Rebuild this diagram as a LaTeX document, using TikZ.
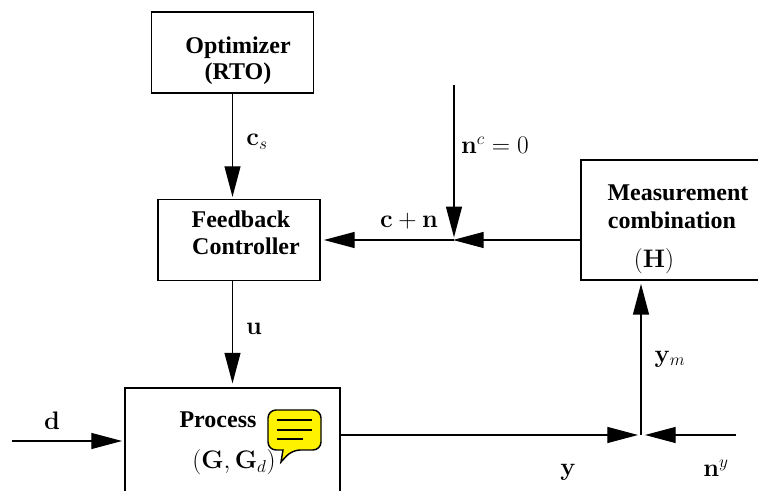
\documentclass[tikz,border=0pt]{standalone}
\usepackage{fix-cm}
\usepackage[no-math]{fontspec}
\setmainfont{Liberation Serif}
\usetikzlibrary{arrows.meta}
\DeclareMathSizes{19}{19}{13}{10}
\tikzset{every picture/.style={line width=0.85pt}}
\tikzset{
  blockbox/.style={draw,inner sep=0pt},
  boldlab/.style={font=\fontsize{18}{20}\selectfont\bfseries,inner sep=0pt},
  mathlab/.style={font=\fontsize{19}{21}\selectfont,inner sep=0pt},
  sig/.style={-{Triangle[length=23pt,width=12pt]}}
}

\begin{document}
\begin{tikzpicture}[x=0.75pt,y=0.75pt,yscale=-1,xscale=1]
\clip (0,0) rectangle (758,491);

%Blocks
\node [blockbox,minimum width=121.5pt,minimum height=60.75pt] (optimizer) at (232.5,52.5) {};
\node [blockbox,minimum width=121.5pt,minimum height=60.75pt] (controller) at (239,240) {};
\node [blockbox,minimum width=165pt,minimum height=90pt] (measurement) at (691,220) {};
\node [blockbox,minimum width=161.25pt,minimum height=141pt] (process) at (232.5,482) {};

%Free ends and junctions
\coordinate (ncstart) at (454,85);
\coordinate (cjunction) at (454,240);
\coordinate (ctip) at (453,240);
\coordinate (dstart) at (12,441);
\coordinate (dend) at (122,441);
\coordinate (yjunction) at (641,435);
\coordinate (ytip) at (638,435);
\coordinate (nytip) at (645,435);
\coordinate (nystart) at (736,435);

%Connectors
\draw [sig] (optimizer.south) -- ([yshift=-1.5pt]optimizer.south |- controller.north);
\draw [sig] (optimizer.south |- controller.south) -- ([yshift=-3pt]optimizer.south |- process.north);
\draw [sig] (measurement.west |- cjunction) -- (ctip);
\draw [sig] (cjunction) -- ([xshift=2.5pt]controller.east);
\draw [sig] (ncstart) -- ([yshift=-2pt]cjunction);
\draw [sig] (dstart) -- (dend);
\draw [sig] (process.east |- yjunction) -- (ytip);
\draw [sig] (nystart) -- (nytip);
\draw [sig] (yjunction) -- ([yshift=2.5pt]yjunction |- measurement.south);

%Speech bubble
\draw [fill=yellow,line width=1.1pt,rounded corners=6pt] (268,410) -- (321,410) -- (321,450) -- (292,450) [sharp corners] -- (281,462) -- (283,450) [rounded corners=6pt] -- (268,450) -- cycle;
\draw [line width=1.1pt] (277,420) -- (312,420);
\draw [line width=1.1pt] (277,430) -- (312,430);
\draw [line width=1.1pt] (277,439) -- (303,439);

%Text
\node [boldlab] (optimizertext) at (238,47.5) {Optimizer};
\node [boldlab] (rtotext) at (238,73.5) {(RTO)};
\node [boldlab] (feedbacktext) at (241,219) {Feedback};
\node [boldlab] (controllertext) at (246,246) {Controller};
\node [boldlab] (measurementtext) at (678,193) {Measurement};
\node [boldlab] (combinationtext) at (672,220) {combination};
\node [boldlab] (processtext) at (218,420) {Process};
\node [mathlab] (htext) at (654,261) {$(\mathbf{H})$};
\node [mathlab] (gtext) at (234,462) {$(\mathbf{G},\mathbf{G}_d)$};
\node [mathlab] (cstext) at (257,142) {$\mathbf{c}_s$};
\node [mathlab] (utext) at (254,329) {$\mathbf{u}$};
\node [mathlab] (cntext) at (409,221) {$\mathbf{c}+\mathbf{n}$};
\node [mathlab] (nctext) at (495,145) {$\mathbf{n}^c=0$};
\node [mathlab] (ymtext) at (670,359) {$\mathbf{y}_m$};
\node [mathlab] (dtext) at (52,421) {$\mathbf{d}$};
\node [mathlab] (ytext) at (568,472) {$\mathbf{y}$};
\node [mathlab] (nytext) at (716,468) {$\mathbf{n}^y$};

\end{tikzpicture}
\end{document}
